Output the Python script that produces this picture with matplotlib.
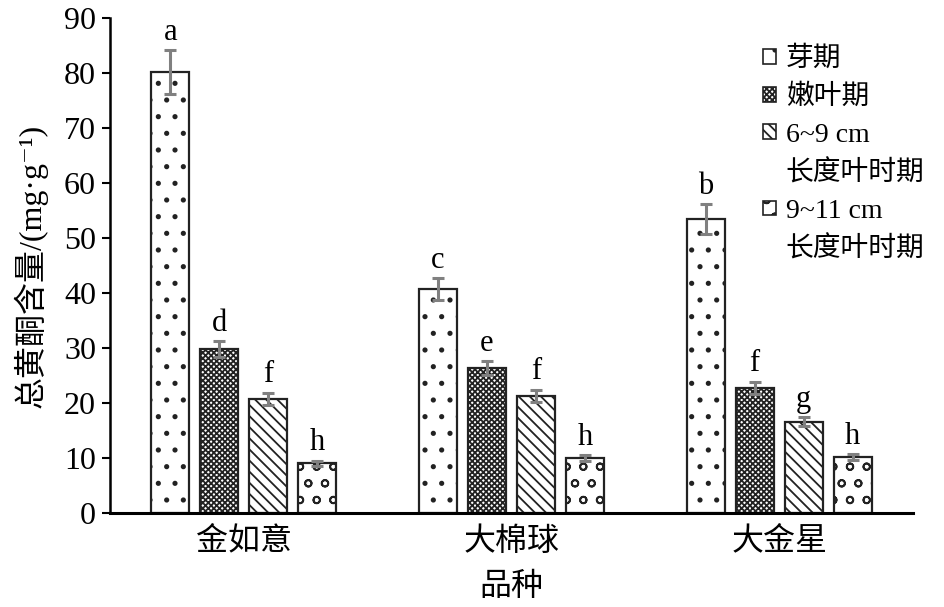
import numpy as np
import matplotlib
matplotlib.use('Agg')
import matplotlib.pyplot as plt
from matplotlib.patches import Patch

plt.rcParams['font.family'] = ['Liberation Serif', 'Noto Sans CJK SC', 'DejaVu Serif']
plt.rcParams['hatch.linewidth'] = 1.3
plt.rcParams['hatch.color'] = 'black'

varieties = ['金如意', '大棉球', '大金星']
stages = ['芽期', '嫩叶期', '6~9 cm', '9~11 cm']
stage_extra = ['', '', '长度叶时期', '长度叶时期']
values = [
    [80.2, 29.8, 20.8, 9.0],
    [40.7, 26.3, 21.3, 10.0],
    [53.5, 22.8, 16.6, 10.2],
]
errors = [
    [4.0, 1.5, 1.1, 0.5],
    [2.0, 1.3, 1.1, 0.5],
    [2.7, 1.1, 0.8, 0.5],
]
letters = [
    ['a', 'd', 'f', 'h'],
    ['c', 'e', 'f', 'h'],
    ['b', 'f', 'g', 'h'],
]
hatches = ['.', 'xxxxxx', '\\\\\\', 'o']

fig = plt.figure(figsize=(9.45, 6.07), dpi=100)
ax = fig.add_axes([0.1164, 0.1549, 0.8497, 0.8154])

x = np.arange(len(varieties))
width = 0.142
pitch = 0.183
vals = np.array(values)
errs = np.array(errors)
for j in range(len(stages)):
    pos = x + (j - 1.5) * pitch
    ax.bar(pos, vals[:, j], width, facecolor='white', edgecolor='#222222',
           linewidth=1.6, hatch=hatches[j], zorder=2)
    ax.errorbar(pos, vals[:, j], yerr=errs[:, j], fmt='none', ecolor='#808080',
                elinewidth=2.2, capsize=4.5, capthick=2.2, zorder=3)
    for i in range(len(varieties)):
        ax.text(pos[i], vals[i, j] + errs[i, j] + 0.6, letters[i][j],
                ha='center', va='bottom', fontsize=22)

ax.set_xlim(-0.5, 2.5)
ax.set_ylim(0, 90)
ax.set_yticks(np.arange(0, 91, 10))
ax.set_xticks(x)
ax.set_xticklabels(varieties, fontsize=23)
ax.tick_params(axis='y', labelsize=23, direction='out', length=6, width=1.5, pad=4)
ax.tick_params(axis='x', length=0, pad=10)
for s in ['top', 'right']:
    ax.spines[s].set_visible(False)
ax.spines['left'].set_linewidth(1.8)
ax.spines['bottom'].set_linewidth(2.2)

ax.set_xlabel('品种', fontsize=23, labelpad=12)
ax.set_ylabel('总黄酮含量/(mg·g⁻¹)', fontsize=23, labelpad=12)

# legend: continuation lines get an invisible handle so the box sits beside the first line
handles = []
labels = []
for h, s, extra in zip(hatches, stages, stage_extra):
    handles.append(Patch(facecolor='white', edgecolor='#222222', hatch=h, linewidth=1.2))
    labels.append(s)
    if extra:
        handles.append(Patch(visible=False))
        labels.append(extra)
ax.legend(handles, labels, loc='upper left', bbox_to_anchor=(0.80, 0.965),
          frameon=False, fontsize=20, handlelength=0.45, handleheight=0.45,
          handletextpad=0.35, labelspacing=0.45, borderaxespad=0)

fig.savefig('out.png', dpi=100)
